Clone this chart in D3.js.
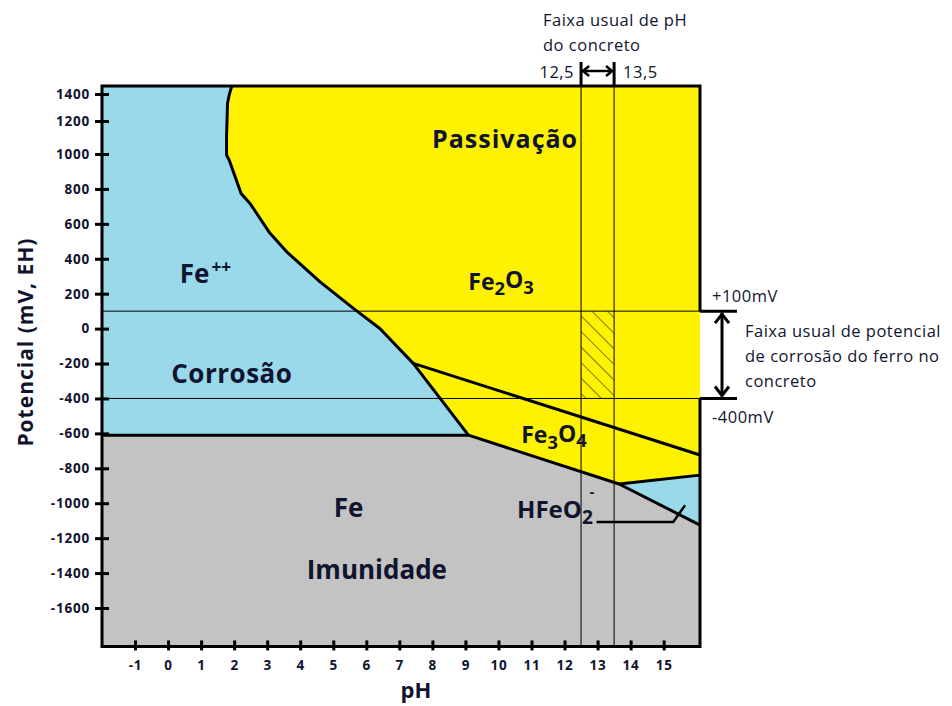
<!DOCTYPE html>
<html>
<head>
<meta charset="utf-8">
<script src="https://cdn.jsdelivr.net/npm/d3@7"></script>
<style>
  html, body { margin: 0; padding: 0; background: #ffffff; }
  svg { display: block; }
  text { font-family: "Open Sans", Lato, sans-serif; fill: #10142e; }
</style>
</head>
<body>
<svg id="chart" width="952" height="706"></svg>
<script>
// Axis ticks
const phTicks = [-1, 0, 1, 2, 3, 4, 5, 6, 7, 8, 9, 10, 11, 12, 13, 14, 15];
const mvTicks = [1400, 1200, 1000, 800, 600, 400, 200, 0, -200, -400, -600, -800, -1000, -1200, -1400, -1600];

// Plot extent (pH, mV)
const phExtent = [-2, 16.1];
const mvExtent = [-1820, 1460];

// Fe++ / Fe2O3 boundary, top to bottom
const feIonBoundary = [
  [1.93, 1460], [1.85, 1393], [1.80, 1331], [1.77, 1105], [1.77, 994],
  [1.85, 965], [2.21, 774], [2.48, 717], [3.08, 547], [3.59, 440],
  [4.60, 268], [5.61, 116], [6.41, 1], [7.42, -199], [9.09, -610]
];
// Fe2O3 / Fe3O4 boundary
const magnetiteTop = [[7.42, -199], [16.1, -724]];
// Immunity (Fe) upper boundary, left to right
const ironTop = [[-2, -610], [9.09, -610], [13.65, -890], [16.1, -1125]];
// Fe3O4 / HFeO2- boundary
const ferriteTop = [[13.65, -890], [16.1, -839]];
// Leader line to the HFeO2- label
const ferriteLeader = [[12.97, -1107], [15.29, -1107], [15.65, -1011]];

// Usual concrete pH range and corrosion potential range
const phRange = [12.5, 13.5];
const mvRange = [100, -400];
const phRangeLabels = ["12,5", "13,5"];
const mvRangeLabels = ["+100mV", "-400mV"];

const colors = { ion: "#99d9ea", oxide: "#fff200", iron: "#c3c3c3", ink: "#000000" };

const svg = d3.select("#chart");
const x = d3.scaleLinear().domain(phExtent).range([102, 700]);
const y = d3.scaleLinear().domain([-1600, 1000, 1200, 1400]).range([608, 154, 121, 94]);

const X0 = x(phExtent[0]), X1 = x(phExtent[1]);
const Y0 = y(mvExtent[1]), Y1 = y(mvExtent[0]);

const line = d3.line().x(d => x(d[0])).y(d => y(d[1]));

// Regions
const mvTop = mvExtent[1], mvBottom = mvExtent[0], phLeft = phExtent[0], phRight = phExtent[1];

const ionRegion = [[phLeft, mvTop], ...feIonBoundary, [phLeft, -610]];
const oxideRegion = [[9.09, -610], ...feIonBoundary.slice().reverse(), [phRight, mvTop],
  ...ferriteTop.slice().reverse()];
const ionHighRegion = [ferriteTop[0], ferriteTop[1], [phRight, -1125]];
const ironRegion = [...ironTop, [phRight, mvBottom], [phLeft, mvBottom]];

const regions = svg.append("g");
regions.append("path").attr("d", line(ionRegion) + "Z").attr("fill", colors.ion);
regions.append("path").attr("d", line(oxideRegion) + "Z").attr("fill", colors.oxide);
regions.append("path").attr("d", line(ionHighRegion) + "Z").attr("fill", colors.ion);
regions.append("path").attr("d", line(ironRegion) + "Z").attr("fill", colors.iron);

// Hatched zone: usual pH x usual potential
const defs = svg.append("defs");
const pat = defs.append("pattern")
  .attr("id", "hatch").attr("patternUnits", "userSpaceOnUse")
  .attr("width", 11).attr("height", 11)
  .attr("patternTransform", "rotate(-45)");
pat.append("line").attr("x1", 0).attr("y1", 0).attr("x2", 0).attr("y2", 11)
  .attr("stroke", "#000").attr("stroke-width", 1);

svg.append("rect")
  .attr("x", x(phRange[0])).attr("y", y(mvRange[0]))
  .attr("width", x(phRange[1]) - x(phRange[0]))
  .attr("height", y(mvRange[1]) - y(mvRange[0]))
  .attr("fill", "url(#hatch)");

// Thin reference lines
const thin = svg.append("g").attr("stroke", "#000").attr("stroke-width", 1).attr("fill", "none");
mvRange.forEach(v => {
  thin.append("line").attr("x1", X0).attr("x2", X1).attr("y1", y(v)).attr("y2", y(v));
});
phRange.forEach(v => {
  thin.append("line").attr("x1", x(v)).attr("x2", x(v)).attr("y1", Y0).attr("y2", Y1);
});

// Domain boundaries
const bounds = svg.append("g").attr("stroke", colors.ink).attr("stroke-width", 3)
  .attr("fill", "none").attr("stroke-linejoin", "round");
[feIonBoundary, magnetiteTop, ironTop, ferriteTop].forEach(b => bounds.append("path").attr("d", line(b)));
bounds.append("path").attr("d", line(ferriteLeader)).attr("stroke-width", 2.5);

// Frame (right side open across the potential bracket)
const frame = svg.append("g").attr("stroke", "#000").attr("stroke-width", 3).attr("fill", "none");
frame.append("path").attr("d",
  `M${X1},${y(mvRange[0])} L${X1},${Y0} L${X0},${Y0} L${X0},${Y1} L${X1},${Y1} L${X1},${y(mvRange[1])}`);

// Axes
const xAxis = svg.append("g").attr("transform", `translate(0,${Y1})`)
  .call(d3.axisBottom(x).tickValues(phTicks).tickFormat(d => String(d)).tickSize(4).tickPadding(10));
const yAxis = svg.append("g").attr("transform", `translate(${X0},0)`)
  .call(d3.axisLeft(y).tickValues(mvTicks).tickFormat(d => String(d)).tickSize(6).tickPadding(6));
[xAxis, yAxis].forEach(a => {
  a.select(".domain").remove();
  a.selectAll(".tick line").attr("stroke", "#000").attr("stroke-width", 3);
  a.selectAll(".tick text").attr("fill", "#10142e")
    .style("font-family", "'Open Sans', sans-serif").style("font-weight", "bold")
    .style("font-size", "13.5px").style("letter-spacing", "0.8px");
});
xAxis.selectAll(".tick line").attr("y1", -6);
yAxis.selectAll(".tick line").attr("x2", 7).attr("x1", -7);

// Axis titles
svg.append("text").attr("x", x(7.5)).attr("y", 698).attr("text-anchor", "middle")
  .style("font-weight", "bold").style("font-size", "22px").text("pH");
svg.append("text").attr("transform", `translate(33,${y(-77)}) rotate(-90)`).attr("text-anchor", "middle")
  .style("font-weight", "bold").style("font-size", "21px").style("letter-spacing", "1px")
  .text("Potencial (mV, EH)");

// Region labels
function label(px, mv, size, parts, spacing) {
  const t = svg.append("text").attr("x", x(px)).attr("y", y(mv))
    .attr("text-anchor", "middle").style("font-weight", "bold").style("font-size", size + "px")
    .style("letter-spacing", (spacing || 0) + "px");
  parts.forEach(p => {
    const s = t.append("tspan").text(p.t);
    if (p.sub) s.attr("dy", "0.3em").style("font-size", (size * 0.8) + "px");
    if (p.sup) s.attr("dy", "-0.6em").style("font-size", (size * 0.66) + "px").attr("dx", 2);
    if (p.back) s.attr("dy", p.back);
  });
  return t;
}
label(10.2, 1036, 25, [{ t: "Passivação" }], 1);
label(1.13, 259, 26, [{ t: "Fe" }, { t: "++", sup: true }]);
label(10.08, 224, 23, [{ t: "Fe" }, { t: "2", sub: true }, { t: "O", back: "-0.3em" }, { t: "3", sub: true }]);
label(1.93, -314, 26, [{ t: "Corrosão" }], 0.5);
label(11.68, -656, 23, [{ t: "Fe" }, { t: "3", sub: true }, { t: "O", back: "-0.3em" }, { t: "4", sub: true }]);
label(5.46, -1078, 26, [{ t: "Fe" }]);
label(6.32, -1435, 26, [{ t: "Imunidade" }]);
label(11.71, -1085, 24, [{ t: "HFeO" }, { t: "2", sub: true }]);
svg.append("text").attr("x", x(12.83)).attr("y", y(-965)).attr("text-anchor", "middle")
  .style("font-weight", "bold").style("font-size", "15px").text("-");

// Annotation: usual concrete pH range
const ann = svg.append("g").attr("stroke", "#000").attr("fill", "none");
const armY = 71;
phRange.forEach(v => ann.append("line").attr("x1", x(v)).attr("x2", x(v))
  .attr("y1", 62).attr("y2", Y0).attr("stroke-width", 3));
ann.append("line").attr("x1", x(phRange[0]) + 2).attr("x2", x(phRange[1]) - 2)
  .attr("y1", armY).attr("y2", armY).attr("stroke-width", 2.5);
ann.append("path").attr("stroke-width", 2.5)
  .attr("d", `M${x(phRange[0]) + 8},${armY - 5} L${x(phRange[0]) + 2},${armY} L${x(phRange[0]) + 8},${armY + 5}
              M${x(phRange[1]) - 8},${armY - 5} L${x(phRange[1]) - 2},${armY} L${x(phRange[1]) - 8},${armY + 5}`);

function note(px, py, s, anchor) {
  return svg.append("text").attr("x", px).attr("y", py).attr("text-anchor", anchor || "start")
    .style("font-size", "16.5px").style("letter-spacing", "0.5px").text(s);
}
note(543, 26, "Faixa usual de pH");
note(543, 51, "do concreto");
note(x(phRange[0]) - 7, 78, phRangeLabels[0], "end");
note(x(phRange[1]) + 9, 78, phRangeLabels[1]);

// Annotation: usual corrosion potential range
const bx = 722;
mvRange.forEach(v => ann.append("line").attr("x1", X1).attr("x2", 737)
  .attr("y1", y(v)).attr("y2", y(v)).attr("stroke-width", 3));
ann.append("line").attr("x1", bx).attr("x2", bx)
  .attr("y1", y(mvRange[0]) + 2).attr("y2", y(mvRange[1]) - 2).attr("stroke-width", 3);
ann.append("path").attr("stroke-width", 3)
  .attr("d", `M${bx - 7},${y(mvRange[0]) + 12} L${bx},${y(mvRange[0]) + 3} L${bx + 7},${y(mvRange[0]) + 12}
              M${bx - 7},${y(mvRange[1]) - 12} L${bx},${y(mvRange[1]) - 3} L${bx + 7},${y(mvRange[1]) - 12}`);

note(712, 302, mvRangeLabels[0]);
note(712, 423, mvRangeLabels[1]);
["Faixa usual de potencial", "de corrosão do ferro no", "concreto"].forEach((s, i) => note(745, 337 + i * 25, s));
</script>
</body>
</html>
